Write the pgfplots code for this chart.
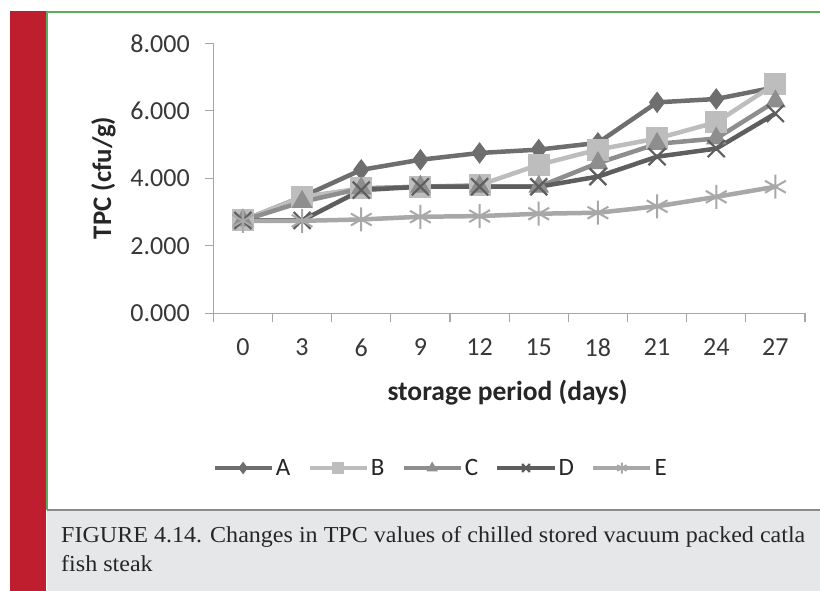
\documentclass[border=0pt]{standalone}
\usepackage{pgfplots}
\pgfplotsset{compat=1.18}
\usepackage{fontspec}
\setmainfont{Carlito}
\newfontfamily\capfont{Liberation Serif}[FakeStretch=1.055]
\definecolor{redbar}{HTML}{BE1E2D}
\definecolor{greenb}{HTML}{5DAA5E}
\definecolor{capgray}{HTML}{E6E7E8}
\definecolor{axgray}{HTML}{A6A6A6}
\definecolor{cA}{HTML}{6E6E6E}
\definecolor{cB}{HTML}{BDBDBD}
\definecolor{cC}{HTML}{8E8E8E}
\definecolor{cD}{HTML}{5E5E5E}
\definecolor{cE}{HTML}{A8A8A8}
\begin{document}
\begin{tikzpicture}[x=1pt,y=1pt]
\useasboundingbox (0,0) rectangle (820,591);
\clip (0,0) rectangle (820,591);
\fill[white] (0,0) rectangle (820,591);
\fill[capgray] (47,0) rectangle (830,80);
\draw[black!45, line width=0.8pt] (47,80.2) -- (830,80.2);
\draw[greenb, line width=1.6pt] (46.8,81.3) rectangle (840,579.2);
\fill[redbar] (10,0) rectangle (46,580);
\node[anchor=base west, inner sep=0pt, text=black!85, font=\capfont\fontsize{22.8}{27}\selectfont] at (61,48) {FIGURE 4.14. Changes in TPC values of chilled stored vacuum packed catla};
\node[anchor=base west, inner sep=0pt, text=black!85, font=\capfont\fontsize{22.8}{27}\selectfont] at (61,19) {fish steak};
\node[rotate=90, font=\bfseries\fontsize{26.8}{30}\selectfont, text=black!85] at (103.5,413) {TPC (cfu/g)};
\node[font=\bfseries\fontsize{27.5}{31}\selectfont, text=black!85] at (507.5,198) {storage period (days)};
\begin{axis}[
  at={(213.3pt,277.7pt)}, anchor=south west,
  scale only axis, width=591.7pt, height=270pt,
  xmin=-0.5, xmax=9.5, ymin=0, ymax=8,
  axis x line=bottom, axis y line=left,
  axis line style={-, draw=axgray, line width=1.3pt},
  xtick={0,...,9}, xticklabels={0,3,6,9,12,15,18,21,24,27},
  major x tick style={draw=none},
  minor xtick={-0.5,0.5,...,9.5},
  ytick={0,2,4,6,8}, yticklabels={0.000,2.000,4.000,6.000,8.000},
  tick align=outside, major tick length=8pt, minor tick length=9pt,
  tick style={axgray, line width=1.2pt},
  ticklabel style={font=\fontsize{26}{30}\selectfont, text=black!78},
  x tick label style={yshift=-14pt},
  y tick label style={xshift=-12pt},
  clip=false,
  legend style={at={(-0.007,-0.573)}, anchor=west, draw=none, fill=none, legend columns=5,
    font=\fontsize{25}{30}\selectfont, text=black!85,
    /tikz/every even column/.append style={column sep=15pt}},
  legend image code/.code={\draw[mark repeat=2, mark phase=2, mark size=5.5pt] plot coordinates {(0pt,0pt) (28.5pt,0pt) (57pt,0pt)};},
]
\addplot[cA, line width=4.5pt, mark=diamond*, mark size=10pt, mark options={solid, fill=cA, draw=cA, line width=1pt}]
  coordinates {(0,2.75) (1,3.45) (2,4.25) (3,4.55) (4,4.75) (5,4.85) (6,5.05) (7,6.25) (8,6.35) (9,6.70)};
\addlegendentry{A}
\addplot[cB, line width=4.5pt, mark=square*, mark size=10.5pt, mark options={solid, fill=cB, draw=cB, line width=1pt}]
  coordinates {(0,2.75) (1,3.45) (2,3.70) (3,3.75) (4,3.80) (5,4.40) (6,4.85) (7,5.18) (8,5.66) (9,6.80)};
\addlegendentry{B}
\addplot[cC, line width=4.5pt, mark=triangle*, mark size=11pt, mark options={solid, fill=cC, draw=cC, line width=1pt}]
  coordinates {(0,2.75) (1,3.30) (2,3.70) (3,3.75) (4,3.75) (5,3.75) (6,4.45) (7,5.02) (8,5.18) (9,6.28)};
\addlegendentry{C}
\addplot[cD, line width=4.5pt, mark=x, mark size=12pt, mark options={solid, draw=cD, line width=2.2pt}]
  coordinates {(0,2.75) (1,2.75) (2,3.65) (3,3.75) (4,3.75) (5,3.75) (6,4.05) (7,4.64) (8,4.88) (9,5.92)};
\addlegendentry{D}
\addplot[cE, line width=4.5pt, mark=asterisk, mark size=12pt, mark options={solid, draw=cE, line width=2pt}]
  coordinates {(0,2.74) (1,2.74) (2,2.78) (3,2.86) (4,2.88) (5,2.95) (6,2.98) (7,3.17) (8,3.45) (9,3.75)};
\addlegendentry{E}
\end{axis}
\end{tikzpicture}
\end{document}
